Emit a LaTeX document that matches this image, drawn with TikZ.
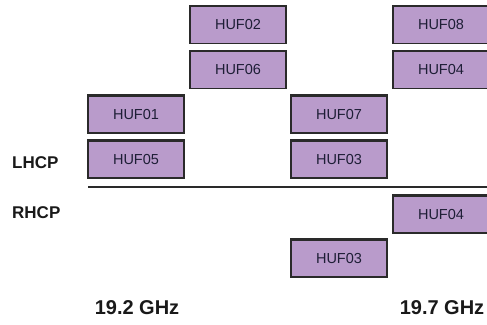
\documentclass[tikz,border=0pt]{standalone}
\usepackage{fontspec}
\setmainfont{Liberation Sans}
\definecolor{boxfill}{HTML}{B99BCB}
\definecolor{boxline}{HTML}{2A2A2A}
\definecolor{boxtext}{HTML}{1E1E36}
\begin{document}
\begin{tikzpicture}[x=1pt,y=-1pt,
  hufbox/.style={draw=boxline,fill=boxfill,line width=1.3pt,minimum width=96pt,minimum height=37pt,inner sep=0pt,font=\fontsize{14.5}{16}\selectfont,text=boxtext},
  topedge/.style={draw=boxline,line width=2.4pt},
  polar/.style={font=\bfseries\fontsize{17}{20}\selectfont,text=black!90,anchor=west,inner sep=0pt},
  freq/.style={font=\bfseries\fontsize{20}{24}\selectfont,text=black!90,inner sep=0pt}]
\useasboundingbox (0,0) rectangle (487,324);
\node[hufbox] (h02) at (238,25) {HUF02};
\node[hufbox] (h06) at (238,70) {HUF06};
\node[hufbox] (h01) at (136,114.5) {HUF01};
\node[hufbox] (h05) at (136,159.5) {HUF05};
\node[hufbox] (h07) at (339,114.5) {HUF07};
\node[hufbox] (h03) at (339,159.5) {HUF03};
\node[hufbox] (h08) at (441,25) {HUF08};
\node[hufbox] (h04) at (441,70) {HUF04};
\node[hufbox] (h04r) at (441,214.5) {HUF04};
\node[hufbox] (h03r) at (339,258.5) {HUF03};
\foreach \n in {h02,h06,h01,h05,h07,h03,h08,h04,h04r,h03r}
  \draw[topedge] (\n.north west) -- (\n.north east);
\node[polar] (lhcp) at (12,163) {LHCP};
\node[polar] (rhcp) at (12,212.5) {RHCP};
\coordinate (lineL) at (88,187);
\coordinate (lineR) at (490,187);
\draw[line width=2.6pt,draw=boxline] (lineL) -- (lineR);
\node[freq] (f1) at (137,308) {19.2 GHz};
\node[freq] (f2) at (442,308) {19.7 GHz};
\end{tikzpicture}
\end{document}
